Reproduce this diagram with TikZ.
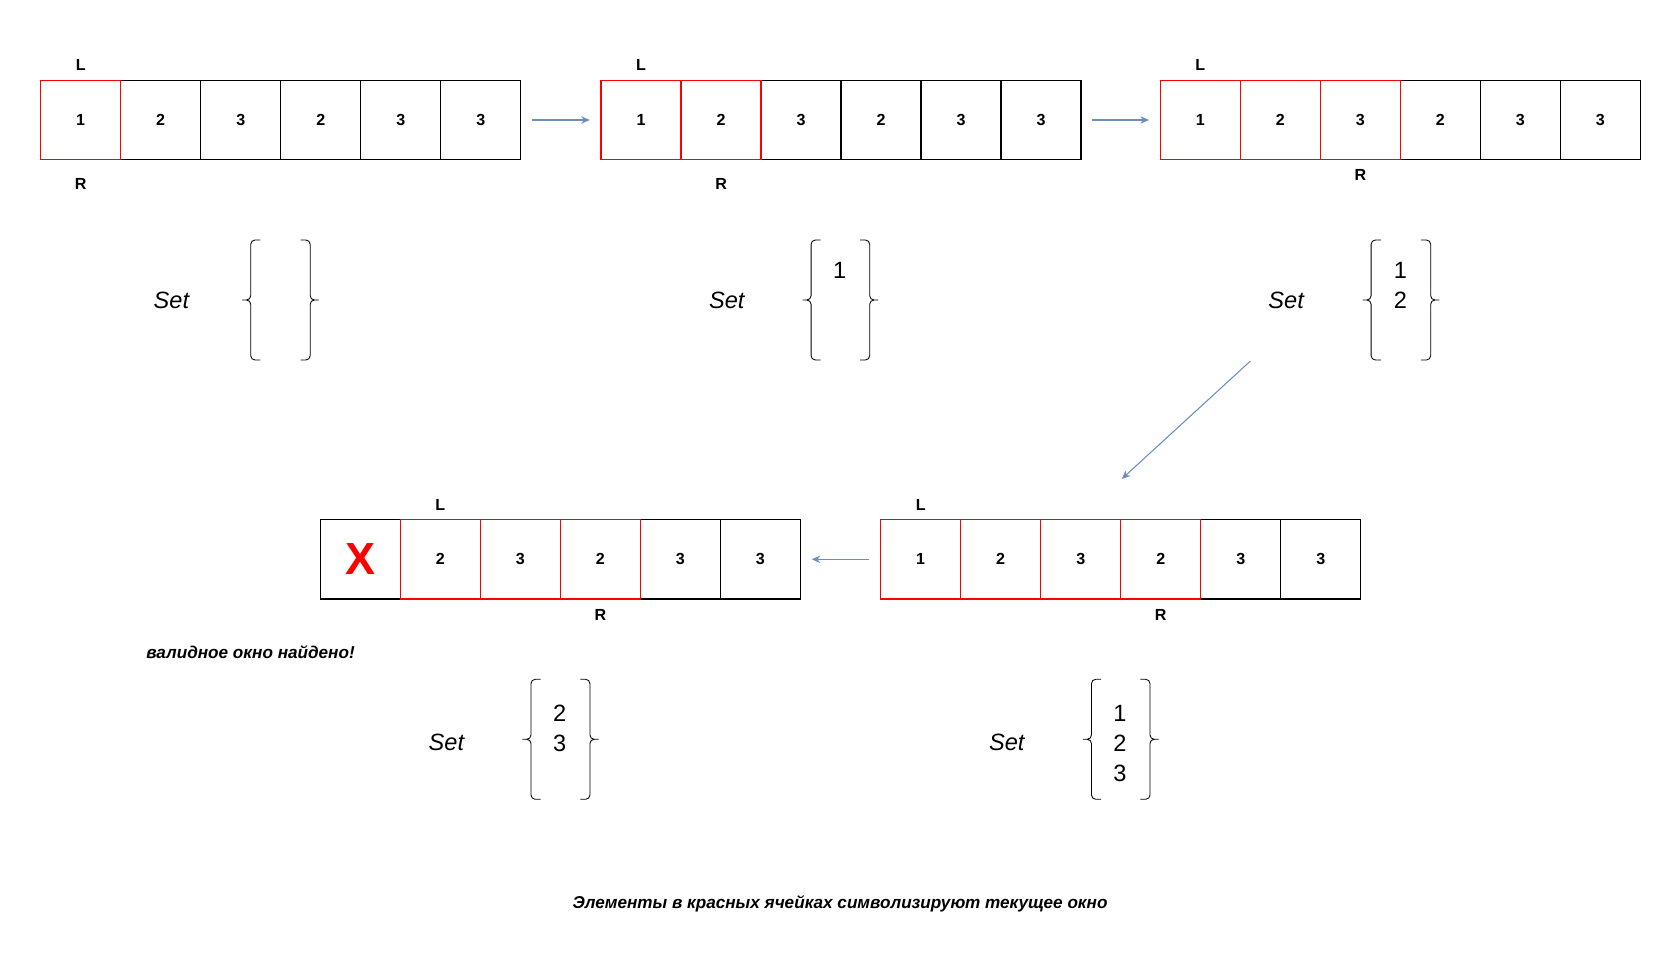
\documentclass[tikz,border=0pt]{standalone}
\usepackage{fontspec}
\setmainfont{Liberation Sans}
\usetikzlibrary{positioning,arrows.meta}

\definecolor{flowblue}{HTML}{6C8EBF}

\tikzset{
  cell/.style={draw=black, line width=1.2pt, minimum width=74.67pt, minimum height=74pt,
    inner sep=0pt, font=\bfseries\fontsize{15}{18}\selectfont},
  win/.style={cell, draw=red},
  gone/.style={cell, text=red, font=\bfseries\fontsize{42}{48}\selectfont},
  ptr/.style={font=\bfseries\fontsize{15}{18}\selectfont},
  setname/.style={font=\itshape\fontsize{22}{26}\selectfont},
  setval/.style={font=\fontsize{22}{26}\selectfont},
  note/.style={font=\bfseries\itshape\fontsize{16}{19}\selectfont},
  flow/.style={draw=flowblue, line width=1pt, -{Stealth[length=8pt,width=7pt]},
    shorten <=10pt, shorten >=10pt},
  lbrace/.pic={\draw[line width=0.8pt, rounded corners=4pt]
    (17,-56) -- (8,-56) -- (8,0) -- (0,0) (0,0) -- (8,0) -- (8,56) -- (17,56);},
  rbrace/.pic={\draw[line width=0.8pt, rounded corners=4pt]
    (-17,-56) -- (-8,-56) -- (-8,0) -- (0,0) (0,0) -- (-8,0) -- (-8,56) -- (-17,56);}
}

\begin{document}
\begin{tikzpicture}[x=1pt,y=-1pt,node distance=74.67pt,on grid]
  \useasboundingbox (0,0) rectangle (1568,896);

  % step 1
  \node[cell] (a2) at (150,112) {2};
  \node[cell] (a3) [right=of a2] {3};
  \node[cell] (a4) [right=of a3] {2};
  \node[cell] (a5) [right=of a4] {3};
  \node[cell] (a6) [right=of a5] {3};
  \node[win] (a1) [left=of a2] {1};
  \node[ptr] (aL) [above=51pt of a1] {L};
  \node[ptr] (aR) [below=60pt of a1] {R};

  % step 2
  \node[cell] (b3) at (747.67,112) {3};
  \node[cell] (b4) [right=of b3] {2};
  \node[cell] (b5) [right=of b4] {3};
  \node[cell] (b6) [right=of b5] {3};
  \node[win] (b2) [left=of b3] {2};
  \node[win] (b1) [left=of b2] {1};
  \node[ptr] (bL) [above=51pt of b1] {L};
  \node[ptr] (bR) [below=60pt of b2] {R};

  % step 3
  \node[cell] (c4) at (1344.33,112) {2};
  \node[cell] (c5) [right=of c4] {3};
  \node[cell] (c6) [right=of c5] {3};
  \node[win] (c3) [left=of c4] {3};
  \node[win] (c2) [left=of c3] {2};
  \node[win] (c1) [left=of c2] {1};
  \node[ptr] (cL) [above=51pt of c1] {L};
  \node[ptr] (cR) [below=51pt of c3] {R};

  % step 4
  \node[cell] (e5) at (1158,522) {3};
  \node[cell] (e6) [right=of e5] {3};
  \node[win] (e4) [left=of e5] {2};
  \node[win] (e3) [left=of e4] {3};
  \node[win] (e2) [left=of e3] {2};
  \node[win] (e1) [left=of e2] {1};
  \node[ptr] (eL) [above=51pt of e1] {L};
  \node[ptr] (eR) [below=52pt of e4] {R};

  % step 5
  \node[gone] (d1) at (336.33,522) {X};
  \node[cell] (d5) at (635,522) {3};
  \node[cell] (d6) [right=of d5] {3};
  \node[win] (d4) [left=of d5] {2};
  \node[win] (d3) [left=of d4] {3};
  \node[win] (d2) [left=of d3] {2};
  \node[ptr] (dL) [above=51pt of d2] {L};
  \node[ptr] (dR) [below=52pt of d4] {R};

  % sets
  \node[setname] (s1) at (160,280) {Set};
  \pic at (226,280) {lbrace};
  \pic at (297.5,280) {rbrace};

  \node[setname] (s2) at (678.3,280) {Set};
  \pic at (749,280) {lbrace};
  \pic at (819.7,280) {rbrace};
  \node[setval] (s2v1) at (783.7,252) {1};

  \node[setname] (s3) at (1200.4,280) {Set};
  \pic at (1271.7,280) {lbrace};
  \pic at (1343.3,280) {rbrace};
  \node[setval] (s3v1) at (1307,252) {1};
  \node[setval] (s3v2) [below=28pt of s3v1] {2};

  \node[setname] (s5) at (939.6,693) {Set};
  \pic at (1010.7,690) {lbrace};
  \pic at (1081.3,690) {rbrace};
  \node[setval] (s5v1) at (1045.3,666) {1};
  \node[setval] (s5v2) [below=28pt of s5v1] {2};
  \node[setval] (s5v3) [below=28pt of s5v2] {3};

  \node[setname] (s4) at (416.6,693) {Set};
  \pic at (487.6,690) {lbrace};
  \pic at (558.6,690) {rbrace};
  \node[setval] (s4v1) at (522.4,666) {2};
  \node[setval] (s4v2) [below=28pt of s4v1] {3};

  % arrows
  \coordinate (turn1) at (1167,337);
  \coordinate (turn2) at (1047,447);
  \draw[flow] (a6) -- (b1);
  \draw[flow] (b6) -- (c1);
  \draw[flow, shorten <=0pt, shorten >=0pt] (turn1) -- (turn2);
  \draw[flow] (e1) -- (d6);

  \node[note, anchor=base west] (found) at (133,615) {валидное окно найдено!};
  \node[note, anchor=base] (caption) at (784,848) {Элементы в красных ячейках символизируют текущее окно};
\end{tikzpicture}
\end{document}
